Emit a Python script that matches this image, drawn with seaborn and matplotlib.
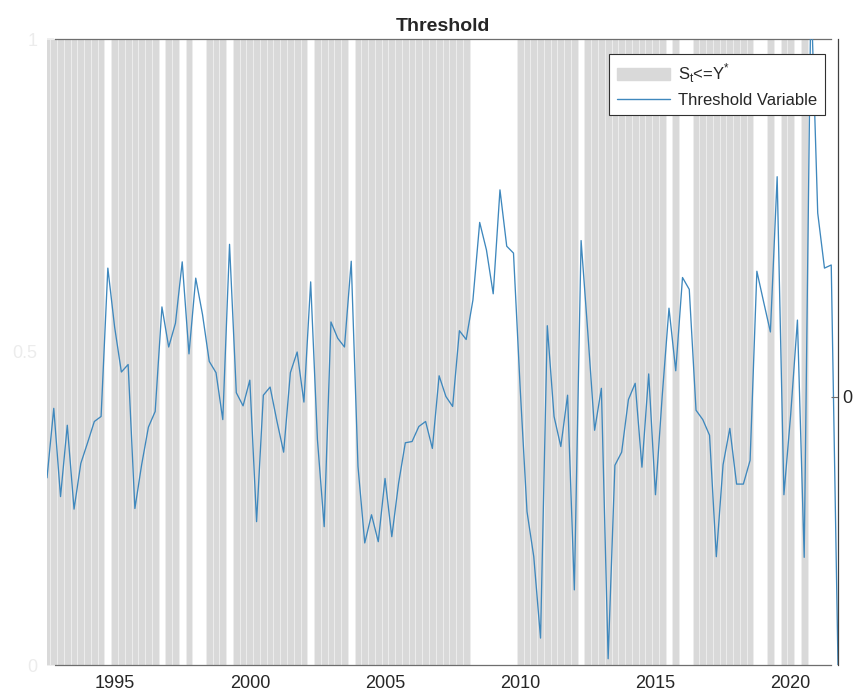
import numpy as np
import pandas as pd
import matplotlib
matplotlib.use("Agg")
import matplotlib.pyplot as plt
from matplotlib.patches import Patch
from matplotlib.lines import Line2D
import seaborn as sns

# Quarterly sample 1992Q3 - 2021Q4
first_quarter = "1992Q3"
last_quarter = "2021Q4"

# Threshold variable (one value per quarter)
threshold_values = [
    0.299, 0.41, 0.269, 0.383, 0.249, 0.322, 0.355, 0.389, 0.397, 0.634,
    0.54, 0.468, 0.48, 0.25, 0.32, 0.38, 0.405, 0.572, 0.508, 0.546,
    0.644, 0.497, 0.618, 0.56, 0.485, 0.467, 0.392, 0.672, 0.435, 0.414,
    0.455, 0.229, 0.431, 0.444, 0.39, 0.34, 0.467, 0.50, 0.42, 0.612,
    0.36, 0.221, 0.548, 0.522, 0.508, 0.645, 0.317, 0.195, 0.24, 0.197,
    0.298, 0.205, 0.29, 0.355, 0.357, 0.381, 0.389, 0.346, 0.462, 0.429,
    0.413, 0.534, 0.52, 0.583, 0.707, 0.663, 0.593, 0.759, 0.669, 0.658,
    0.44, 0.245, 0.173, 0.043, 0.542, 0.397, 0.349, 0.431, 0.12, 0.678,
    0.53, 0.375, 0.442, 0.01, 0.319, 0.34, 0.424, 0.45, 0.316, 0.465,
    0.272, 0.43, 0.57, 0.47, 0.619, 0.60, 0.407, 0.392, 0.367, 0.173,
    0.32, 0.378, 0.289, 0.289, 0.327, 0.629, 0.58, 0.532, 0.78, 0.272,
    0.40, 0.551, 0.172, 1.08, 0.722, 0.634, 0.639, 0.0,
]

# Regime indicator: 1 when S_t <= Y*
low_regime = [
    1, 1, 1, 1, 1, 1, 1, 1, 1, 0,
    1, 1, 1, 1, 1, 1, 1, 0, 1, 1,
    0, 1, 0, 0, 1, 1, 1, 0, 1, 1,
    1, 1, 1, 1, 1, 1, 1, 1, 1, 0,
    1, 1, 1, 1, 1, 0, 1, 1, 1, 1,
    1, 1, 1, 1, 1, 1, 1, 1, 1, 1,
    1, 1, 1, 0, 0, 0, 0, 0, 0, 0,
    1, 1, 1, 1, 1, 1, 1, 1, 1, 0,
    1, 1, 1, 1, 1, 1, 1, 1, 1, 1,
    1, 1, 0, 1, 0, 0, 1, 1, 1, 1,
    1, 1, 1, 1, 1, 0, 0, 1, 0, 1,
    1, 0, 1, 0, 0, 0, 0, 0,
]

year_ticks = [1995, 2000, 2005, 2010, 2015, 2020]
left_ticks = [0, 0.5, 1]
left_tick_labels = ["0", "0.5", "1"]
right_ticks = [0]

legend_labels = [r"S$_{\mathregular{t}}$<=Y$^{\mathregular{*}}$", "Threshold Variable"]

periods = pd.period_range(first_quarter, last_quarter, freq="Q")
t = np.array([p.year + (p.quarter - 1) / 4 for p in periods])
df = pd.DataFrame({"t": t, "value": threshold_values, "regime": low_regime})

sns.set_theme(style="white")
plt.rcParams["font.family"] = ["Liberation Sans", "DejaVu Sans"]
plt.rcParams["mathtext.fontset"] = "custom"
plt.rcParams["mathtext.rm"] = "Liberation Sans"

bar_color = "#d9d9d9"
line_color = "#3f88bd"
axis_color = "#6e6e6e"
faint = "#ececec"

fig = plt.figure(figsize=(8.55, 6.91), dpi=100)
W, H = 855, 691
ax = fig.add_axes([47 / W, 1 - 665 / H, (838 - 47) / W, (665 - 39) / H])

# shaded regime bars, one per quarter
sns.barplot(data=df, x="t", y="regime", ax=ax, native_scale=True,
            width=1.0, color=bar_color, saturation=1, errorbar=None,
            edgecolor="#eeeeee", linewidth=0.6, zorder=1)
# threshold variable
sns.lineplot(data=df, x="t", y="value", ax=ax, color=line_color,
             linewidth=0.95, zorder=3)

ax.set_xlim(t[0], t[-1])
ax.set_ylim(0, 1)
ax.set_xlabel("")
ax.set_ylabel("")

ax.set_xticks(year_ticks)
ax.set_xticklabels([str(y) for y in year_ticks], fontsize=13, color="#262626")
ax.tick_params(axis="x", which="both", direction="in", length=5, width=0.8,
               color=axis_color, top=True, bottom=True, labeltop=False, pad=7)

ax.set_yticks(left_ticks)
ax.set_yticklabels(left_tick_labels, fontsize=13, color=faint)
ax.tick_params(axis="y", direction="in", length=5, color=faint, left=True, pad=7)

for side in ["left", "right"]:
    ax.spines[side].set_visible(False)
for side in ["top", "bottom"]:
    ax.spines[side].set_visible(True)
    ax.spines[side].set_color(axis_color)
    ax.spines[side].set_linewidth(0.9)
    ax.spines[side].set_bounds(1992.8, 2021.5)

ax.set_title("Threshold", fontsize=14, fontweight="bold", pad=6)

# right axis
ax2 = ax.twinx()
ax2.set_ylim(-3, 4)
ax2.set_yticks(right_ticks)
ax2.set_yticklabels([str(v) for v in right_ticks], fontsize=13, color="#262626")
ax2.tick_params(axis="y", direction="in", length=5, width=0.8, color=axis_color, pad=3)
for side in ["left", "top", "bottom"]:
    ax2.spines[side].set_visible(False)
ax2.spines["right"].set_visible(True)
ax2.spines["right"].set_color("#404040")
ax2.spines["right"].set_linewidth(0.9)
ax2.grid(False)

handles = [Patch(facecolor=bar_color, edgecolor=bar_color),
           Line2D([0], [0], color=line_color, linewidth=1.0)]
leg = ax2.legend(handles, legend_labels, loc="upper right",
                 bbox_to_anchor=(1 - 13 / 791, 1 - 15 / 626),
                 fontsize=12, frameon=True, fancybox=False, framealpha=1,
                 edgecolor="#303030", handlelength=3.2, handletextpad=0.5,
                 borderaxespad=0, borderpad=0.45, labelspacing=0.45)
leg.get_frame().set_linewidth(0.8)

fig.savefig("out.png", dpi=100)
